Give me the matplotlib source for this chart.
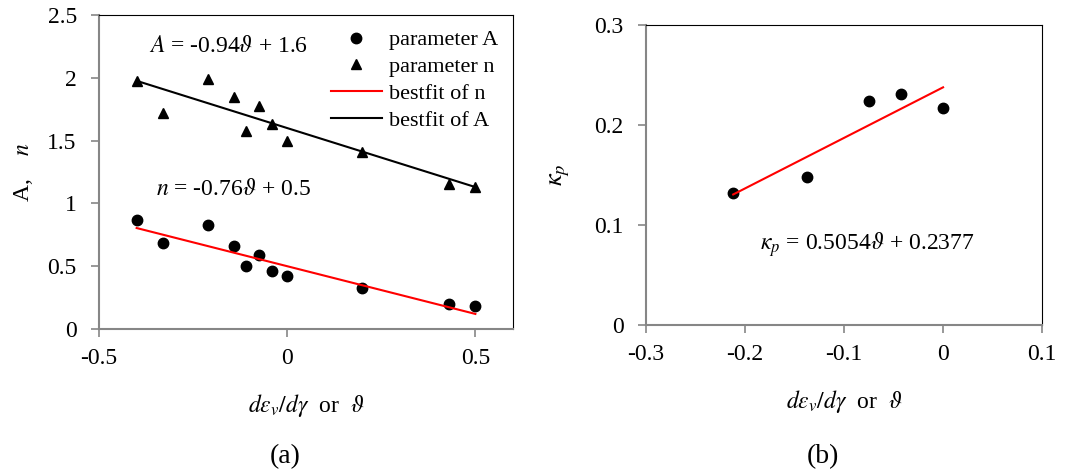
import matplotlib
matplotlib.use("Agg")
import matplotlib.pyplot as plt
import numpy as np

# (a) parameters A and n versus dilatancy
theta_a = [-0.4, -0.33, -0.21, -0.14, -0.11, -0.075, -0.04, 0.0, 0.2, 0.43, 0.5]
param_A = [0.864, 0.687, 0.827, 0.663, 0.501, 0.586, 0.459, 0.419, 0.329, 0.199, 0.183]
param_n = [1.975, 1.718, 1.99, 1.85, 1.577, 1.776, 1.633, 1.495, 1.41, 1.158, 1.129]
fit_n = (-0.76, 0.5)    # slope, intercept (red line)
fit_A = (-0.94, 1.6)    # slope, intercept (black line)

# (b) kappa_p versus dilatancy
theta_b = [-0.212, -0.137, -0.075, -0.042, 0.0]
kappa_p = [0.1317, 0.148, 0.224, 0.231, 0.217]
fit_k = (0.5054, 0.2377)

plt.rcParams['font.family'] = ['Liberation Serif', 'DejaVu Serif']
plt.rcParams['mathtext.fontset'] = 'stix'
plt.rcParams['font.size'] = 16

fig = plt.figure(figsize=(10.88, 4.74), dpi=100)
ax1 = fig.add_axes([0.0910, 0.3059, 0.3805, 0.6624])
ax2 = fig.add_axes([0.5938, 0.3143, 0.3640, 0.6329])

gray = '#868686'


def style(ax):
    for s in ['left', 'bottom']:
        ax.spines[s].set_color(gray)
        ax.spines[s].set_linewidth(1.5)
    for s in ['top', 'right']:
        ax.spines[s].set_color('black')
        ax.spines[s].set_linewidth(0.8)
    ax.tick_params(direction='out', length=6, width=1.2, color=gray,
                   labelsize=17, top=False, right=False)
    ax.tick_params(axis='x', pad=8)
    ax.tick_params(axis='y', pad=10)


ax1.plot(theta_a, param_A, 'o', color='black', ms=7.5, label='parameter A')
ax1.plot(theta_a, param_n, '^', color='black', ms=7.5, label='parameter n')
xa = np.array([theta_a[0], theta_a[-1]])
ax1.plot(xa, fit_n[0] * xa + fit_n[1], color='red', lw=1.5, label='bestfit of n')
ax1.plot(xa, fit_A[0] * xa + fit_A[1], color='black', lw=1.5, label='bestfit of A')
ax1.set_xlim(-0.5, 0.6)
ax1.set_ylim(0, 2.5)
ax1.set_xticks([-0.5, 0, 0.5])
ax1.set_xticklabels(['-0.5', '0', '0.5'])
ax1.set_yticks([0, 0.5, 1, 1.5, 2, 2.5])
ax1.set_yticklabels(['0', '0.5', '1', '1.5', '2', '2.5'])
style(ax1)
ax1.set_ylabel(r'A,    $n$', fontsize=17, labelpad=9)
ax1.set_xlabel(r'$d\varepsilon_v/d\gamma$  or  $\vartheta$', fontsize=17, labelpad=16)
ax1.text(-0.368, 2.25, r'$A$ = -0.94$\vartheta$ + 1.6', fontsize=17, va='center')
ax1.text(-0.349, 1.107, r'$n$ = -0.76$\vartheta$ + 0.5', fontsize=17, va='center')
ax1.legend(loc='upper right', frameon=False, fontsize=16, handlelength=2.3,
           handletextpad=0.3, labelspacing=0.28, borderaxespad=0.0,
           bbox_to_anchor=(0.985, 0.981))

ax2.plot(theta_b, kappa_p, 'o', color='black', ms=7.5)
xb = np.array([theta_b[0], theta_b[-1]])
ax2.plot(xb, fit_k[0] * xb + fit_k[1], color='red', lw=1.5)
ax2.set_xlim(-0.3, 0.1)
ax2.set_ylim(0, 0.3)
ax2.set_xticks([-0.3, -0.2, -0.1, 0, 0.1])
ax2.set_xticklabels(['-0.3', '-0.2', '-0.1', '0', '0.1'])
ax2.set_yticks([0, 0.1, 0.2, 0.3])
ax2.set_yticklabels(['0', '0.1', '0.2', '0.3'])
style(ax2)
ax2.set_ylabel(r'$\kappa_p$', fontsize=19, labelpad=16)
ax2.set_xlabel(r'$d\varepsilon_v/d\gamma$  or  $\vartheta$', fontsize=17, labelpad=16)
ax2.text(-0.185, 0.08, r'$\kappa_p$ = 0.5054$\vartheta$ + 0.2377', fontsize=17, va='center')

fig.text(285 / 1088, 1 - 457 / 474, '(a)', fontsize=20, ha='center', va='center')
fig.text(823 / 1088, 1 - 457 / 474, '(b)', fontsize=20, ha='center', va='center')

fig.savefig('out.png', dpi=100)
